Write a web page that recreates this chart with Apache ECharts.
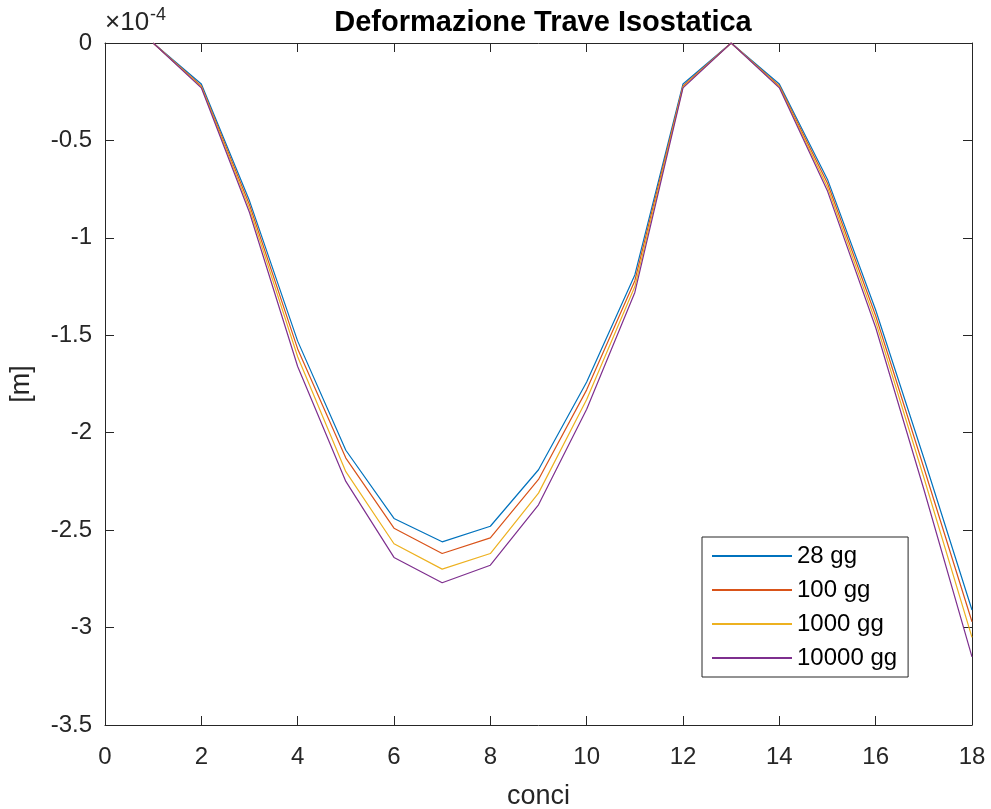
<!DOCTYPE html>
<html>
<head>
<meta charset="utf-8">
<script src="https://cdn.jsdelivr.net/npm/echarts@6/dist/echarts.min.js"></script>
<style>html,body{margin:0;padding:0;background:#fff}#c{width:991px;height:809px}</style>
</head>
<body>
<div id="c"></div>
<script>
const conci = [1,2,3,4,5,6,7,8,9,10,11,12,13,14,15,16,17,18];
const seriesNames = ['28 gg','100 gg','1000 gg','10000 gg'];
const s28    = [0,-0.21,-0.81,-1.53,-2.09,-2.44,-2.56,-2.48,-2.19,-1.74,-1.19,-0.21,0,-0.21,-0.70,-1.37,-2.13,-2.91];
const s100   = [0,-0.22,-0.83,-1.57,-2.13,-2.49,-2.62,-2.54,-2.24,-1.78,-1.22,-0.22,0,-0.22,-0.72,-1.40,-2.18,-2.97];
const s1000  = [0,-0.225,-0.85,-1.61,-2.20,-2.57,-2.70,-2.62,-2.31,-1.83,-1.25,-0.225,0,-0.225,-0.74,-1.43,-2.23,-3.05];
const s10000 = [0,-0.23,-0.87,-1.66,-2.25,-2.64,-2.77,-2.68,-2.37,-1.88,-1.28,-0.23,0,-0.23,-0.76,-1.46,-2.29,-3.15];
const xTicks = {min:0, max:18, interval:2};
const yTicks = {min:-3.5, max:0, interval:0.5};
const colors = ['#0072BD','#D95319','#EDB120','#7E2F8E'];
const allData = [s28, s100, s1000, s10000];

const chart = echarts.init(document.getElementById('c'));
const axCol = '#262626';
const font = 'Liberation Sans, Arial, sans-serif';
const tickStyle = {show:true, inside:true, length:9, lineStyle:{color:axCol, width:1}};
chart.setOption({
  animation:false,
  backgroundColor:'#fff',
  title:{text:'Deformazione Trave Isostatica', left:538, top:3, textAlign:'center',
    textStyle:{fontFamily:font, fontSize:29, fontWeight:'bold', color:'#000'}},
  grid:{left:105, right:19, top:43, bottom:84, containLabel:false, outerBoundsMode:'none'},
  legend:{
    orient:'vertical', left:702, top:537, data:seriesNames,
    itemWidth:80, itemHeight:2, itemGap:10,
    padding:[7,11,7,9],
    borderColor:axCol, borderWidth:1, backgroundColor:'#fff',
    textStyle:{fontFamily:font, fontSize:24, color:'#000', lineHeight:24}
  },
  xAxis:[
    {type:'value', min:xTicks.min, max:xTicks.max, interval:xTicks.interval,
     name:'conci', nameLocation:'middle', nameGap:58,
     nameTextStyle:{fontFamily:font, fontSize:27, color:axCol},
     axisLine:{show:true, onZero:false, lineStyle:{color:axCol, width:1}},
     axisTick:tickStyle, splitLine:{show:false},
     axisLabel:{fontFamily:font, fontSize:24, color:axCol, margin:20}},
    {type:'value', position:'top', min:xTicks.min, max:xTicks.max, interval:xTicks.interval,
     axisLine:{show:true, onZero:false, lineStyle:{color:axCol, width:1}},
     axisTick:tickStyle, splitLine:{show:false}, axisLabel:{show:false}}
  ],
  yAxis:[
    {type:'value', min:yTicks.min, max:yTicks.max, interval:yTicks.interval,
     name:'[m]', nameLocation:'middle', nameGap:70, nameRotate:90,
     nameTextStyle:{fontFamily:font, fontSize:27, color:axCol},
     axisLine:{show:true, onZero:false, lineStyle:{color:axCol, width:1}},
     axisTick:tickStyle, splitLine:{show:false},
     axisLabel:{fontFamily:font, fontSize:24, color:axCol, margin:13}},
    {type:'value', position:'right', min:yTicks.min, max:yTicks.max, interval:yTicks.interval,
     axisLine:{show:true, onZero:false, lineStyle:{color:axCol, width:1}},
     axisTick:tickStyle, splitLine:{show:false}, axisLabel:{show:false}}
  ],
  graphic:[{type:'text', left:105, top:6,
    style:{text:'{a|×10}{b|-4}', rich:{
      a:{fontFamily:font, fontSize:26, fill:axCol, verticalAlign:'bottom', lineHeight:30},
      b:{fontFamily:font, fontSize:18, fill:axCol, verticalAlign:'top', lineHeight:30, padding:[0,0,12,1]}
    }}}],
  series: seriesNames.map((n,i)=>({
    name:n, type:'line', showSymbol:false, symbol:'none',
    color:colors[i], lineStyle:{width:1.2, color:colors[i]},
    data: conci.map((c,k)=>[c, allData[i][k]])
  }))
});
</script>
</body>
</html>
